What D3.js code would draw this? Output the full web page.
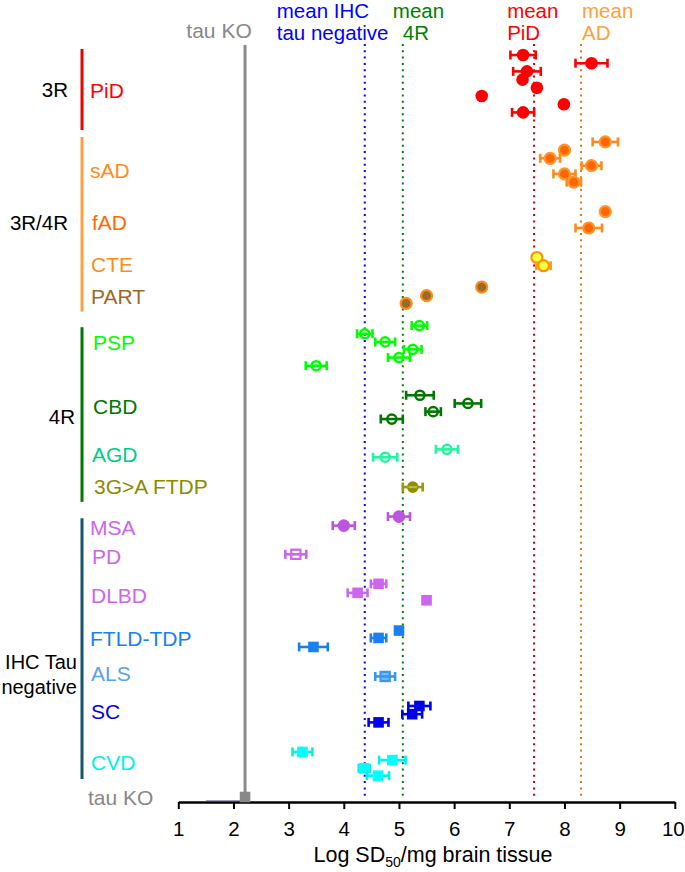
<!DOCTYPE html>
<html>
<head>
<meta charset="utf-8">
<script src="https://cdn.jsdelivr.net/npm/d3@7/dist/d3.min.js"></script>
<style>
  html, body { margin: 0; padding: 0; background: #fff; }
  svg { display: block; font-family: "Liberation Sans", Arial, Helvetica, sans-serif; }
</style>
</head>
<body>
<div id="chart"></div>
<script>
// ---------------- DATA ----------------
const categories = ["PiD","sAD","fAD","CTE","PART","PSP","CBD","AGD","3G>A FTDP","MSA","PD","DLBD","FTLD-TDP","ALS","SC","CVD","tau KO"];

// Log SD50/mg brain tissue, per case (top to bottom within each category)
const values = [
  [7.25, 8.49, 7.32, 7.24, 7.50, 6.50, 7.99, 7.25],   // PiD
  [8.74, 8.00, 7.74, 8.49, 8.00, 8.17],               // sAD
  [8.74, 8.44],                                       // fAD
  [7.50, 7.62],                                       // CTE
  [6.50, 5.50, 5.13],                                 // PART
  [5.37, 4.38, 4.75, 5.25, 5.00, 3.50],               // PSP
  [5.38, 6.25, 5.62, 4.87],                           // CBD
  [5.87, 4.75],                                       // AGD
  [5.25],                                             // 3G>A FTDP
  [5.00, 4.00],                                       // MSA
  [3.13],                                             // PD
  [4.63, 4.25, 5.50],                                 // DLBD
  [5.00, 4.63, 3.45],                                 // FTLD-TDP
  [4.75],                                             // ALS
  [5.37, 5.24, 4.63],                                 // SC
  [3.25, 4.88, 4.37, 4.62],                           // CVD
  [2.21]                                              // tau KO
];

// standard error of each case (0 = no visible bar)
const sems = [
  [0.23, 0.29, 0.25, 0, 0, 0, 0, 0.20],
  [0.23, 0, 0.18, 0.18, 0.20, 0.13],
  [0, 0.24],
  [0, 0.13],
  [0, 0, 0],
  [0.14, 0.14, 0.18, 0.16, 0.20, 0.19],
  [0.25, 0.24, 0.14, 0.20],
  [0.20, 0.22],
  [0.18],
  [0.20, 0.20],
  [0.19],
  [0.14, 0.18, 0],
  [0, 0.14, 0.26],
  [0.18],
  [0.20, 0.18, 0.18],
  [0.18, 0.24, 0.10, 0.20],
  [0]
];

// vertical rank (row) of each case in the plot
const ranks = [
  [0, 1, 2, 3, 4, 5, 6, 7],
  [10.6, 11.6, 12.6, 13.5, 14.5, 15.5],
  [19.1, 21.1],
  [24.7, 25.7],
  [28.3, 29.35, 30.3],
  [33, 34, 35, 35.9, 36.9, 37.9],
  [41.5, 42.5, 43.5, 44.4],
  [48.1, 49.06],
  [52.7],
  [56.3, 57.4],
  [60.9],
  [64.5, 65.6, 66.5],
  [70.2, 71.1, 72.2],
  [75.8],
  [79.4, 80.4, 81.4],
  [85, 86, 87, 87.9],
  [90.5]
];

const tauKOLow = 1.5;

const groups = ["3R", "3R/4R", "4R", "IHC Tau negative"];
const groupMembers = [["PiD"], ["sAD","fAD","CTE","PART"], ["PSP","CBD","AGD","3G>A FTDP"], ["MSA","PD","DLBD","FTLD-TDP","ALS","SC","CVD"]];

const meanNames = ["mean IHC tau negative", "mean 4R", "mean PiD", "mean AD"];
const meanValues = [4.38, 5.07, 7.45, 8.30];

const xTicks = [1,2,3,4,5,6,7,8,9,10];

// ---------------- LAYOUT / STYLE ----------------
const W = 685, H = 872;
const axisY = 802;
const x = d3.scaleLinear().domain([1, 10]).range([178.3, 674.8]);
const y = d3.scaleLinear().domain([0, 90.5]).range([55, 797]);
const FONT = 21;
const GROUPFONT = 20.5;
const MEANFONT = 20.5;
const TICKFONT = 20.5;

const labelRank = {
  "PiD": 4.27, "sAD": 14.1, "fAD": 20.4, "CTE": 25.6, "PART": 29.5,
  "PSP": 35.1, "CBD": 42.9, "AGD": 48.7, "3G>A FTDP": 52.6,
  "MSA": 57.6, "PD": 61.2, "DLBD": 65.9, "FTLD-TDP": 71.1, "ALS": 75.4,
  "SC": 80.1, "CVD": 86.3, "tau KO": 90.5
};
const labelX = {"PiD":90,"sAD":90,"fAD":92,"CTE":91,"PART":91,"PSP":93,"CBD":93,"AGD":92,"3G>A FTDP":94,
  "MSA":90,"PD":92,"DLBD":91,"FTLD-TDP":90,"ALS":91,"SC":91,"CVD":91,"tau KO":88};

const style = {
  "PiD":      {shape:"circle", fill:"#ff0000", stroke:"none", err:"#ff0000", label:"#ff0000"},
  "sAD":      {shape:"circle", fill:"#ff6600", stroke:"#ff9428", err:"#ff8a1c", label:"#ff8c1a"},
  "fAD":      {shape:"circle", fill:"#ff6600", stroke:"#ff9428", err:"#ff8a1c", label:"#ff6a00"},
  "CTE":      {shape:"circle", fill:"#ffff40", stroke:"#ff9400", err:"#ff9a28", label:"#ff8c1a"},
  "PART":     {shape:"circle", fill:"#9c6a28", stroke:"#ff8c1a", err:"#ff8c1a", label:"#9a6a2a"},
  "PSP":      {shape:"ocircle", fill:"none", stroke:"#00ff00", err:"#00ff00", label:"#00ff00"},
  "CBD":      {shape:"ocircle", fill:"none", stroke:"#007700", err:"#007700", label:"#007700"},
  "AGD":      {shape:"ocircle", fill:"none", stroke:"#22f59e", err:"#22f59e", label:"#00cc88"},
  "3G>A FTDP":{shape:"ocircle", fill:"#8e8e00", stroke:"#8e8e00", err:"#9a9a10", label:"#8b8b00"},
  "MSA":      {shape:"circle", fill:"#bb55dd", stroke:"none", err:"#bb55dd", label:"#cc66ee"},
  "PD":       {shape:"osquare", fill:"none", stroke:"#cc66ee", err:"#cc66ee", label:"#cc66ee"},
  "DLBD":     {shape:"square", fill:"#cc66ee", stroke:"none", err:"#cc66ee", label:"#cc66ee"},
  "FTLD-TDP": {shape:"square", fill:"#1a80f0", stroke:"none", err:"#1a80f0", label:"#1a80f0"},
  "ALS":      {shape:"osquare", fill:"#7ab8f5", stroke:"#3a96f0", err:"#3a96f0", label:"#5aa0f0"},
  "SC":       {shape:"square", fill:"#0000ee", stroke:"none", err:"#0000ee", label:"#0000ee"},
  "CVD":      {shape:"square", fill:"#00ffff", stroke:"none", err:"#00f0f0", label:"#00f0f0"},
  "tau KO":   {shape:"square", fill:"#888888", stroke:"none", err:"#888888", label:"#888888"}
};

const groupStyle = [
  {color:"#ee0000", from:-0.73, to:9.15, labelRank:4.27, lx:68},
  {color:"#ffa040", from:10.0, to:31.3, labelRank:20.4, lx:68},
  {color:"#007700", from:33.2, to:54.5, labelRank:44.1, lx:75},
  {color:"#15566e", from:56.5, to:88.3, labelRank:75.5, lx:77}
];

const meanStyle = [
  {line:"#0000ff", text:"#0000ff", lines:["mean IHC","tau negative"], dx:[-88,-88]},
  {line:"#008000", text:"#008000", lines:["mean","4R"], dx:[-10,0]},
  {line:"#b00000", text:"#ff0000", lines:["mean","PiD"], dx:[-27,-27]},
  {line:"#d97a1a", text:"#ffa040", lines:["mean","AD"], dx:[1,1]}
];

// ---------------- DRAW ----------------
const svg = d3.select("#chart").append("svg").attr("width", W).attr("height", H);

// group brackets + labels
groups.forEach((g, i) => {
  const s = groupStyle[i];
  svg.append("line").attr("x1", 82).attr("x2", 82)
    .attr("y1", y(s.from)).attr("y2", y(s.to))
    .attr("stroke", s.color).attr("stroke-width", 3);
  const parts = g === "IHC Tau negative" ? ["IHC Tau", "negative"] : [g];
  const fs = parts.length > 1 ? 20 : GROUPFONT;
  parts.forEach((p, k) => {
    svg.append("text").attr("x", s.lx)
      .attr("y", y(s.labelRank) + (k - (parts.length - 1) / 2) * 25)
      .attr("dy", "0.36em").attr("text-anchor", "end")
      .attr("font-size", fs).attr("fill", "#000").text(p);
  });
});

// category labels
categories.forEach(c => {
  svg.append("text").attr("x", labelX[c]).attr("y", y(labelRank[c]))
    .attr("dy", "0.36em").attr("font-size", FONT)
    .attr("fill", style[c].label).text(c);
});

// tau KO vertical line + top label
const tkx = x(values[categories.indexOf("tau KO")][0]);
svg.append("line").attr("x1", tkx).attr("x2", tkx).attr("y1", 45).attr("y2", axisY)
  .attr("stroke", "#8a8a8a").attr("stroke-width", 3);
svg.append("text").attr("x", tkx - 26).attr("y", 38).attr("text-anchor", "middle")
  .attr("font-size", FONT).attr("fill", "#888").text("tau KO");

// mean dotted lines + labels
meanValues.forEach((m, i) => {
  const s = meanStyle[i];
  svg.append("line").attr("x1", x(m)).attr("x2", x(m)).attr("y1", 44).attr("y2", axisY - 2)
    .attr("stroke", s.line).attr("stroke-width", 2).attr("stroke-dasharray", "2,4.3");
  s.lines.forEach((t, k) => {
    svg.append("text").attr("x", x(m) + s.dx[k]).attr("y", 18 + k * 21.5)
      .attr("font-size", MEANFONT).attr("fill", s.text).text(t);
  });
});

// x axis
const ax = svg.append("g").attr("transform", `translate(0,${axisY})`)
  .call(d3.axisBottom(x).tickValues(xTicks).tickSize(7).tickSizeOuter(0).tickPadding(12));
ax.select(".domain").attr("stroke", "#000").attr("stroke-width", 2.5);
ax.selectAll(".tick line").attr("stroke", "#000").attr("stroke-width", 2);
ax.selectAll(".tick text").attr("font-size", TICKFONT).attr("fill", "#000")
  .attr("font-family", "Liberation Sans, Arial, sans-serif")
  .attr("dx", d => d === 10 ? -2 : 0);

// tau KO low range line on axis
svg.append("line").attr("x1", x(tauKOLow)).attr("x2", tkx)
  .attr("y1", axisY - 1).attr("y2", axisY - 1).attr("stroke", "#3c3c6a").attr("stroke-width", 1.2);

// axis title
const title = svg.append("text").attr("x", 433).attr("y", 862).attr("text-anchor", "middle")
  .attr("font-size", 21.5).attr("fill", "#000");
title.append("tspan").text("Log SD");
title.append("tspan").attr("font-size", 14).attr("dy", 5).text("50");
title.append("tspan").attr("dy", -5).text("/mg brain tissue");

// points
const pts = [];
categories.forEach((c, i) => {
  values[i].forEach((v, j) => pts.push({c, v, sem: sems[i][j], r: ranks[i][j]}));
});

const capH = 9;
const gP = svg.append("g");
pts.forEach(p => {
  const s = style[p.c];
  const cy = p.c === "tau KO" ? axisY - 5 : y(p.r);
  const cx = x(p.v);
  const g = gP.append("g");
  const drawErr = () => {
    if (p.sem > 0) {
      const x0 = x(p.v - p.sem), x1 = x(p.v + p.sem);
      g.append("line").attr("x1", x0).attr("x2", x1).attr("y1", cy).attr("y2", cy)
        .attr("stroke", s.err).attr("stroke-width", 2.6);
      [x0, x1].forEach(xx => g.append("line").attr("x1", xx).attr("x2", xx)
        .attr("y1", cy - capH / 2).attr("y2", cy + capH / 2)
        .attr("stroke", s.err).attr("stroke-width", 2.6));
    }
  };
  if (s.shape === "circle") {
    drawErr();
    g.append("circle").attr("cx", cx).attr("cy", cy)
      .attr("r", s.stroke === "none" ? 6.3 : 5.5)
      .attr("fill", s.fill).attr("stroke", s.stroke).attr("stroke-width", 2.2);
  } else if (s.shape === "ocircle") {
    g.append("circle").attr("cx", cx).attr("cy", cy).attr("r", 4.6)
      .attr("fill", s.fill).attr("stroke", s.stroke).attr("stroke-width", 2.5);
    drawErr();
    if (p.c === "3G>A FTDP") {
      g.append("line").attr("x1", cx - 4).attr("x2", cx + 4).attr("y1", cy).attr("y2", cy)
        .attr("stroke", "#c8c840").attr("stroke-width", 1.5);
    }
  } else if (s.shape === "square") {
    drawErr();
    g.append("rect").attr("x", cx - 5.3).attr("y", cy - 5.3).attr("width", 10.6).attr("height", 10.6)
      .attr("fill", s.fill);
  } else if (s.shape === "osquare") {
    g.append("rect").attr("x", cx - 4.6).attr("y", cy - 4.6).attr("width", 9.2).attr("height", 9.2)
      .attr("fill", s.fill).attr("stroke", s.stroke).attr("stroke-width", 2.2);
    drawErr();
  }
});
</script>
</body>
</html>
